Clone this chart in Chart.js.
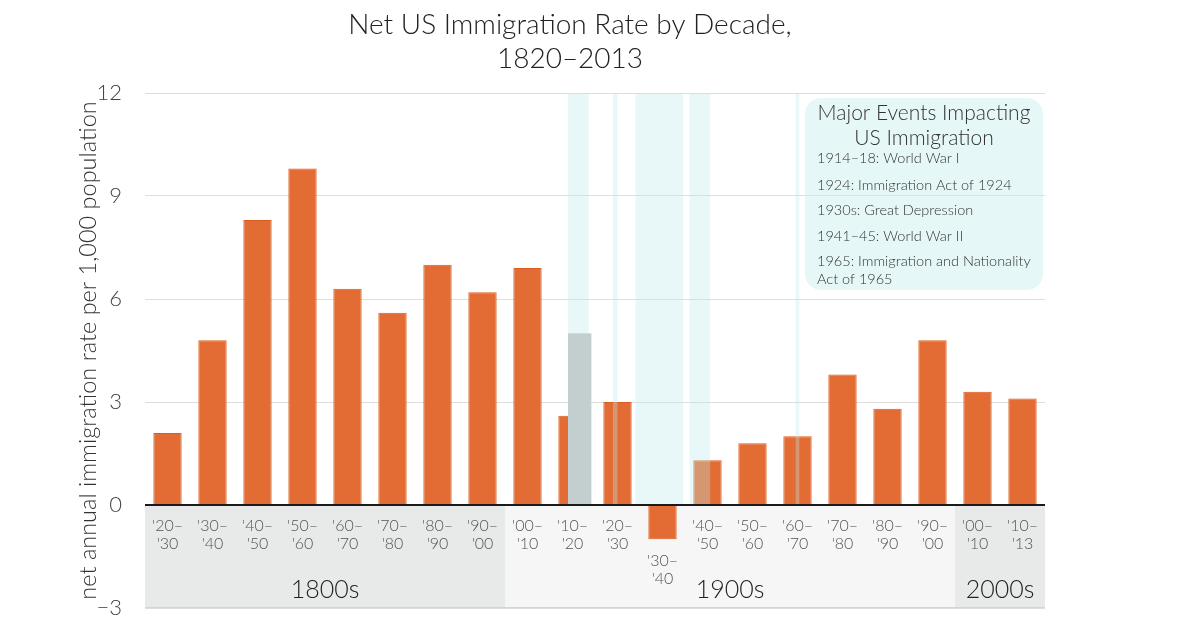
<!DOCTYPE html>
<html>
<head>
<meta charset="utf-8">
<script src="https://cdn.jsdelivr.net/npm/chart.js@4"></script>
<style>
  body { margin: 0; background: #fff; }
</style>
</head>
<body>
<canvas id="graficoImigracao" width="1200" height="630"></canvas>
<script>
const tickTop = ["'20–", "'30–", "'40–", "'50–", "'60–", "'70–", "'80–", "'90–", "'00–", "'10–",
                 "'20–", "'30–", "'40–", "'50–", "'60–", "'70–", "'80–", "'90–", "'00–", "'10–"];
const tickBottom = ["'30", "'40", "'50", "'60", "'70", "'80", "'90", "'00", "'10", "'20",
                    "'30", "'40", "'50", "'60", "'70", "'80", "'90", "'00", "'10", "'13"];
const rates = [2.1, 4.8, 8.3, 9.8, 6.3, 5.6, 7.0, 6.2, 6.9, 2.6, 3.0, -1.0, 1.3, 1.8, 2.0, 3.8, 2.8, 4.8, 3.3, 3.1];

const firstYear = 1820;
const eventSpans = [[1914, 1918.6], [1924, 1925], [1929, 1939.6], [1941, 1945.6], [1964.6, 1965.4]];
const warOverlay = { from: 1914, to: 1919.2, value: 5.0 };

const centuryLabels = ["1800s", "1900s", "2000s"];
const centuryFrom = [0, 8, 18];
const centuryTo = [8, 18, 20];
const centuryColors = ["#e8e9e9", "#f6f6f6", "#e8e9e9"];

const eventsTitle = ["Major Events Impacting", "US Immigration"];
const eventsText = ["1914–18: World War I", "1924: Immigration Act of 1924", "1930s: Great Depression",
                    "1941–45: World War II", "1965: Immigration and Nationality", "Act of 1965"];
const eventsY = [0, 27, 52, 78, 103, 121];

const fonte = "Lato, 'Open Sans', sans-serif";

function yearToX(chart, year) {
  const x = chart.scales.x;
  const step = x.getPixelForValue(1) - x.getPixelForValue(0);
  return x.getPixelForValue(0) - step / 2 + (year - firstYear) / 10 * step;
}

function catEdge(chart, i) {
  const x = chart.scales.x;
  const step = x.getPixelForValue(1) - x.getPixelForValue(0);
  return x.getPixelForValue(0) - step / 2 + i * step;
}

const decoracao = {
  id: "decoracao",
  beforeDraw(chart) {
    const c = chart.ctx, y = chart.scales.y;
    const y0 = y.getPixelForValue(0), yb = chart.chartArea.bottom;
    c.save();
    centuryLabels.forEach((lbl, i) => {
      const a = catEdge(chart, centuryFrom[i]), b = catEdge(chart, centuryTo[i]);
      c.fillStyle = centuryColors[i];
      c.fillRect(a, y0, b - a, yb - y0);
      c.fillStyle = "#222";
      c.font = "300 25px " + fonte;
      c.textAlign = "center";
      c.textBaseline = "middle";
      c.fillText(lbl, (a + b) / 2, yb - 18);
    });
    c.fillStyle = "#d4d4d4";
    c.fillRect(chart.chartArea.left, yb - 1, chart.chartArea.right - chart.chartArea.left, 1.5);

    // title
    c.fillStyle = "#222";
    c.font = "300 28px " + fonte;
    c.fillText("Net US Immigration Rate by Decade,", 570, 25);
    c.fillText("1820–2013", 570, 59);
    c.restore();
  },
  afterDatasetsDraw(chart) {
    const c = chart.ctx, y = chart.scales.y, area = chart.chartArea;
    const y0 = y.getPixelForValue(0);
    c.save();
    c.fillStyle = "rgba(190,232,232,0.35)";
    eventSpans.forEach(s => {
      const a = yearToX(chart, s[0]), b = yearToX(chart, s[1]);
      c.fillRect(a, area.top, b - a, y0 - area.top);
    });
    const ga = yearToX(chart, warOverlay.from), gb = yearToX(chart, warOverlay.to);
    const gy = y.getPixelForValue(warOverlay.value);
    c.fillStyle = "#c3cfcf";
    c.fillRect(ga, gy, gb - ga, y0 - gy);

    c.fillStyle = "#1a1a1a";
    c.fillRect(area.left, y0 - 1, area.right - area.left, 2);

    // events box
    const bx = area.right - 240, by = area.top + 5, bw = 238, bh = 192;
    c.fillStyle = "rgba(200,238,238,0.45)";
    c.beginPath();
    c.roundRect(bx, by, bw, bh, 16);
    c.fill();
    c.fillStyle = "#333";
    c.font = "300 21px " + fonte;
    c.textAlign = "center";
    c.textBaseline = "middle";
    c.fillText(eventsTitle[0], bx + bw / 2, by + 15);
    c.fillText(eventsTitle[1], bx + bw / 2, by + 40);
    c.font = "300 14.5px " + fonte;
    c.textAlign = "left";
    eventsText.forEach((t, i) => c.fillText(t, bx + 12, by + 60 + eventsY[i]));
    c.restore();
  }
};

const ctx = document.getElementById("graficoImigracao");
new Chart(ctx, {
  type: "bar",
  data: {
    labels: tickTop.map((t, i) => i === 11 ? ["", "", t, tickBottom[i]] : [t, tickBottom[i]]),
    datasets: [{
      label: "Net immigration rate",
      data: rates,
      backgroundColor: "#e26c34",
      borderColor: "#d95e22",
      borderWidth: 1,
      barPercentage: 0.63,
      categoryPercentage: 1
    }]
  },
  options: {
    responsive: false,
    animation: false,
    layout: { padding: { top: 93, right: 155, bottom: 22, left: 70 } },
    plugins: { legend: { display: false }, tooltip: { enabled: false } },
    scales: {
      x: {
        position: { y: 0 },
        grid: { display: false },
        border: { display: false },
        ticks: {
          autoSkip: false,
          maxRotation: 0,
          padding: 4,
          color: "#555",
          font: { family: fonte, size: 16, weight: 300, lineHeight: 1.1 }
        }
      },
      y: {
        min: -3,
        max: 12,
        afterFit: s => { s.width = 75; s.paddingBottom = 12; },
        grid: {
          drawTicks: false,
          color: c => c.tick.value === 0 ? "rgba(0,0,0,0)" : "#dedede"
        },
        border: { display: false },
        ticks: {
          stepSize: 3,
          padding: 23,
          color: "#444",
          font: { family: fonte, size: 22, weight: 300 },
          callback: v => v < 0 ? "−" + Math.abs(v) : v
        },
        title: {
          display: true,
          text: "net annual immigration rate per 1,000 population",
          color: "#333",
          padding: { top: 4, bottom: 0 },
          font: { family: fonte, size: 23.5, weight: 300 }
        }
      }
    }
  },
  plugins: [decoracao]
});
</script>
</body>
</html>
